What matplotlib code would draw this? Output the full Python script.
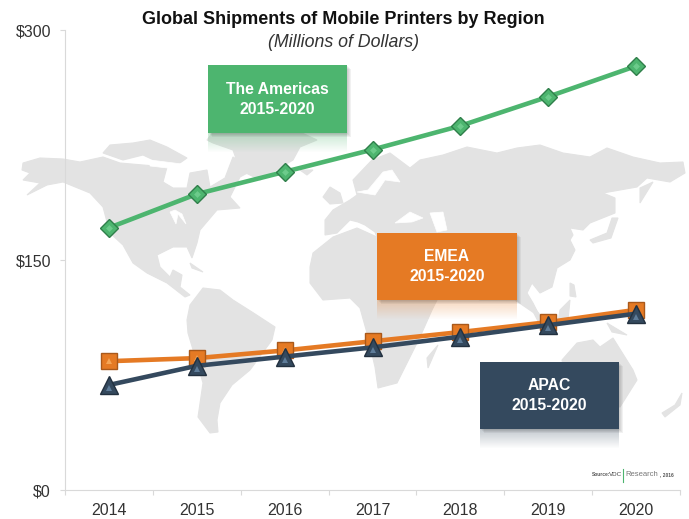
import numpy as np
import matplotlib.pyplot as plt
from matplotlib.patches import Polygon, Rectangle
from matplotlib.colors import to_rgb

plt.rcParams['font.family'] = ['Liberation Sans', 'DejaVu Sans']

years = ['2014', '2015', '2016', '2017', '2018', '2019', '2020']
americas = [171, 193, 207.5, 222, 237.5, 256.5, 276.5]
emea = [84, 86, 91, 97, 103, 109.5, 117.5]
apac = [68.5, 81, 87, 93, 100, 107.5, 115]
y_ticks = [0, 150, 300]
y_labels = ['$0', '$150', '$300']

GREEN = '#4DB56F'
ORANGE = '#E57A24'
NAVY = '#34495E'
LAND = '#E3E3E3'
W, H = 689, 519

# map outlines in pixels, the map is only a backdrop
north_america = [(22, 170), (23, 163), (40, 158), (63, 159), (80, 162), (103, 157), (120, 163), (143, 165),
                 (167, 167), (163, 182), (173, 188), (187, 188), (190, 173), (207, 170), (210, 187), (225, 178),
                 (233, 157), (253, 170), (240, 177), (230, 197), (240, 208), (217, 210), (200, 230), (197, 243),
                 (192, 258), (187, 247), (173, 247), (157, 255), (160, 267), (170, 277), (173, 270), (182, 275),
                 (180, 287), (190, 295), (185, 297), (167, 283), (147, 273), (133, 263), (123, 245), (110, 233),
                 (103, 207), (90, 193), (63, 182), (47, 185), (27, 195), (40, 183), (23, 180), (30, 173)]
arctic = [(103, 153), (110, 145), (133, 143), (150, 140), (167, 147), (187, 158), (177, 165), (160, 163),
          (143, 155), (123, 160)]
greenland = [(207, 140), (213, 132), (300, 132), (317, 140), (300, 147), (293, 160), (260, 180), (240, 170),
             (233, 150), (213, 143)]
south_america = [(187, 320), (190, 305), (203, 288), (220, 290), (233, 300), (252, 312), (275, 327), (272, 340),
                 (250, 370), (232, 385), (220, 403), (217, 420), (218, 432), (210, 433), (198, 417), (203, 383),
                 (188, 333)]
eurasia = [(353, 180), (372, 160), (390, 153), (410, 168), (420, 160), (443, 155), (467, 147), (497, 153),
           (517, 148), (540, 145), (563, 153), (590, 157), (607, 148), (633, 157), (660, 163), (683, 162),
           (685, 173), (670, 182), (647, 178), (637, 187), (603, 193), (615, 198), (615, 213), (590, 223),
           (583, 230), (570, 228), (573, 235), (570, 240), (575, 250), (570, 260), (557, 268), (552, 287),
           (540, 293), (532, 283), (527, 293), (533, 303), (540, 317), (515, 300), (480, 300), (420, 262),
           (380, 245), (375, 232), (365, 225), (358, 222), (350, 220), (337, 233), (325, 235), (325, 220),
           (333, 210), (350, 200), (357, 195)]
africa = [(310, 267), (313, 253), (333, 237), (357, 228), (377, 237), (420, 270), (437, 300), (432, 310),
          (420, 337), (410, 357), (397, 383), (378, 388), (375, 367), (367, 333), (360, 308), (350, 298),
          (323, 300), (310, 283)]
madagascar = [(428, 368), (438, 345), (427, 358)]
uk = [(323, 197), (330, 187), (340, 193), (343, 203), (330, 204)]
iceland = [(300, 170), (313, 170), (307, 175)]
australia = [(562, 360), (577, 343), (593, 340), (600, 347), (613, 338), (633, 370), (637, 380), (620, 407),
             (570, 400)]
new_guinea = [(607, 323), (627, 335), (612, 332)]
borneo = [(560, 310), (570, 300), (568, 320), (558, 322)]
philippines = [(570, 283), (574, 285), (576, 297), (570, 296)]
sumatra = [(525, 296), (548, 325), (540, 325)]
japan = [(590, 240), (607, 233), (612, 218), (618, 218), (611, 238), (593, 243)]
sakhalin = [(640, 203), (653, 182), (640, 188)]
new_zealand = [(682, 393), (675, 405), (662, 413), (665, 417), (680, 405)]
cuba = [(190, 263), (203, 272), (192, 268)]
land = [north_america, arctic, greenland, south_america, eurasia, africa, madagascar, uk, iceland, australia,
        new_guinea, borneo, philippines, sumatra, japan, sakhalin, new_zealand, cuba]

baltic = [(357, 192), (368, 190), (383, 172), (392, 170), (400, 182), (385, 180), (375, 195)]
black_sea = [(395, 223), (410, 212), (423, 218), (412, 222)]
caspian = [(430, 213), (443, 212), (447, 230), (437, 232)]
hudson_channel = [(150, 160), (190, 165), (185, 170), (150, 166)]
great_lakes = [(170, 212), (176, 224), (178, 214), (186, 224), (182, 214), (175, 210)]
water = [baltic, black_sea, caspian, hudson_channel, great_lakes]


def draw_box(ax, x0, y0, x1, y1, color, lines):
    # soft shadow first, then a faded reflection below the box
    for i in range(1, 5):
        ax.add_patch(Rectangle((x0 + i, y0 + i), x1 - x0, y1 - y0, color='#404040', alpha=0.07, lw=0, zorder=3))
    fade = np.zeros((32, 2, 4))
    fade[:, :, :3] = to_rgb(color)
    fade[:, :, 3] = np.linspace(0.3, 0, 32)[:, None]
    ax.imshow(fade, extent=(x0, x1, y1 + 20, y1), aspect='auto', zorder=2.5, interpolation='bilinear')
    ax.add_patch(Rectangle((x0, y0), x1 - x0, y1 - y0, color=color, lw=0, zorder=4))
    ax.text((x0 + x1) / 2, (y0 + y1) / 2 - 10, lines[0], color='white', fontsize=11.3, fontweight='bold',
            ha='center', va='center', zorder=5)
    ax.text((x0 + x1) / 2, (y0 + y1) / 2 + 10, lines[1], color='white', fontsize=11.3, fontweight='bold',
            ha='center', va='center', zorder=5)


fig = plt.figure(figsize=(W / 100, H / 100), dpi=100)

bg = fig.add_axes([0, 0, 1, 1], zorder=1)
for outline in land:
    bg.add_patch(Polygon(outline, closed=True, fc=LAND, ec=LAND, lw=0.8, zorder=1))
for outline in water:
    bg.add_patch(Polygon(outline, closed=True, fc='white', ec='white', lw=0.5, zorder=2))
draw_box(bg, 208, 65, 347, 133, GREEN, ['The Americas', '2015-2020'])
draw_box(bg, 377, 233, 517, 300, ORANGE, ['EMEA', '2015-2020'])
draw_box(bg, 480, 362, 619, 429, NAVY, ['APAC', '2015-2020'])
bg.plot([623, 623], [469, 482], color=GREEN, lw=0.8, zorder=6)
bg.set_xlim(0, W)
bg.set_ylim(H, 0)
bg.axis('off')

ax = fig.add_axes([65 / W, 1 - 490 / H, 615 / W, 460 / H], zorder=2)
ax.patch.set_alpha(0)
x = np.arange(len(years))

ax.plot(x, americas, color=GREEN, lw=3.3, marker='D', ms=8.8, mfc=GREEN, mec='#2F7F4A', mew=1, zorder=3)
ax.plot(x, americas, ls='none', marker='D', ms=3.5, mfc='#6CCB8B', mew=0, zorder=3.1)
ax.plot(x, emea, color=ORANGE, lw=3.3, marker='s', ms=11, mfc=ORANGE, mec='#A9591B', mew=1, zorder=4)
ax.plot(x, emea, ls='none', marker='^', ms=5, mfc='#F4A556', mew=0, zorder=4.1)
ax.plot(x, apac, color=NAVY, lw=3.3, marker='^', ms=12.5, mfc=NAVY, mec='#22303F', mew=1, zorder=5)
ax.plot(x, np.array(apac) - 2, ls='none', marker='^', ms=5, mfc='#5E7C99', mew=0, zorder=5.1)

ax.set_xlim(-0.5, len(years) - 0.5)
ax.set_ylim(0, 300)
ax.set_yticks(y_ticks)
ax.set_yticklabels(y_labels, fontsize=11.5, color='#333333')
ax.set_xticks(x)
ax.set_xticklabels(years, fontsize=11.5, color='#333333')
ax.set_xticks(np.arange(len(years) + 1) - 0.5, minor=True)
ax.tick_params(axis='x', which='major', length=0, pad=9.5)
ax.tick_params(axis='x', which='minor', length=3.6, color='#D9D9D9', width=0.8)
ax.tick_params(axis='y', length=3.6, color='#D9D9D9', width=0.8, pad=6.5)
ax.spines['top'].set_visible(False)
ax.spines['right'].set_visible(False)
ax.spines['left'].set_color('#D9D9D9')
ax.spines['bottom'].set_color('#D9D9D9')

fig.text(343 / W, 1 - 20 / H, 'Global Shipments of Mobile Printers by Region', fontsize=13, fontweight='bold',
         color='#111111', ha='center', va='center')
fig.text(344 / W, 1 - 42.5 / H, '(Millions of Dollars)', fontsize=12.8, fontstyle='italic', color='#333333',
         ha='center', va='center')

# source credit, made of small pieces
fig.text(592 / W, 1 - 475 / H, 'Source:', fontsize=3.5, fontweight='bold', color='#555555', va='center')
fig.text(609 / W, 1 - 475 / H, 'VDC', fontsize=4.5, color='#444444', va='center')
fig.text(625 / W, 1 - 475 / H, 'Research', fontsize=5.5, color='#777777', va='center')
fig.text(660 / W, 1 - 475 / H, ', 2016', fontsize=3.5, fontweight='bold', color='#555555', va='center')

fig.savefig('out.png', dpi=100)
